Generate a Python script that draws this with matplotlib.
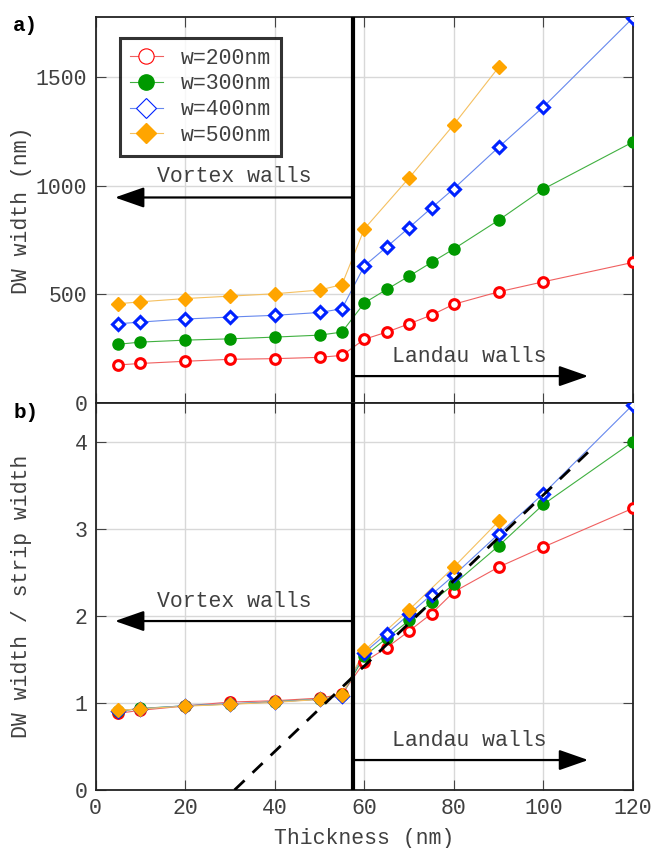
import matplotlib
matplotlib.use('Agg')
import matplotlib.pyplot as plt
from matplotlib.lines import Line2D

plt.rcParams['font.family'] = ['Liberation Mono', 'DejaVu Sans Mono']
plt.rcParams['font.size'] = 15.5

# thickness (nm)
t_full = [5, 10, 20, 30, 40, 50, 55, 60, 65, 70, 75, 80, 90, 100, 120]
t_500 = [5, 10, 20, 30, 40, 50, 55, 60, 70, 80, 90]

# DW width (nm), read off panel a)
dw_200 = [176, 183, 193, 202, 205, 211, 220, 294, 327, 365, 405, 455, 512, 558, 647]
dw_300 = [271, 281, 290, 296, 304, 313, 327, 461, 523, 584, 647, 709, 841, 984, 1200]
dw_400 = [365, 373, 387, 396, 404, 417, 434, 631, 718, 807, 897, 986, 1176, 1361, 1770]
dw_500 = [457, 466, 481, 492, 503, 520, 545, 801, 1035, 1280, 1543]

strip_widths = [200, 300, 400, 500]
labels = ['w=200nm', 'w=300nm', 'w=400nm', 'w=500nm']

# linear guide in panel b)
fit_x = [31, 110]
fit_y = [0, 3.88]

transition = 57.5

series = [(t_full, dw_200), (t_full, dw_300), (t_full, dw_400), (t_500, dw_500)]
styles = [
    dict(marker='o', mfc='white', mec='#ff0000', line='#f06060'),
    dict(marker='o', mfc='#009900', mec='#009900', line='#40b040'),
    dict(marker='D', mfc='white', mec='#0022ff', line='#6688ee'),
    dict(marker='D', mfc='#ffa500', mec='#ffa500', line='#f5c060'),
]
msizes = [7, 8, 7, 8.5]
txtc = '#404040'

fig = plt.figure(figsize=(6.54, 8.48), dpi=100)
ax1 = fig.add_axes([0.1463, 0.5244, 0.8216, 0.4559])
ax2 = fig.add_axes([0.1463, 0.0684, 0.8216, 0.4560])

def draw(ax, ratio):
    for (x, y), w, st, ms in zip(series, strip_widths, styles, msizes):
        yy = [v / w for v in y] if ratio else y
        ax.plot(x, yy, color=st['line'], lw=0.8, zorder=2)
        ax.plot(x, yy, ls='none', marker=st['marker'], ms=ms if st['marker'] == 'o' else ms * 0.85,
                mfc=st['mfc'], mec=st['mec'], mew=2.2 if st['mfc'] == 'white' else 1, zorder=3)

def style(ax):
    ax.set_xlim(0, 120)
    ax.set_xticks(range(0, 121, 20))
    ax.grid(True, color='#d8d8d8', lw=1)
    ax.set_axisbelow(True)
    ax.tick_params(direction='in', length=7, top=True, right=True, colors='#444444',
                   labelcolor=txtc, pad=6)
    for s in ax.spines.values():
        s.set_linewidth(1.3)
        s.set_color('#222222')
    ax.axvline(transition, color='black', lw=3, zorder=4)
    ax.yaxis.set_label_coords(-0.119, 0.5)

arrow = dict(arrowstyle='-|>,head_length=1.0,head_width=0.35', color='black', lw=1.6,
             shrinkA=0, shrinkB=0, mutation_scale=18)

# panel a)
draw(ax1, False)
style(ax1)
ax1.set_ylim(0, 1775)
ax1.set_yticks([0, 500, 1000, 1500])
ax1.tick_params(labelbottom=False)
ax1.set_ylabel('DW width (nm)', color=txtc)
ax1.annotate('', xy=(4.3, 945), xytext=(transition, 945), arrowprops=arrow, zorder=5)
ax1.text(31, 1043, 'Vortex walls', ha='center', va='center', color=txtc)
ax1.annotate('', xy=(110, 125), xytext=(transition, 125), arrowprops=arrow, zorder=5)
ax1.text(83.5, 214, 'Landau walls', ha='center', va='center', color=txtc)

handles = [Line2D([], [], color=st['line'], lw=0.8, marker=st['marker'],
                  ms=11 if st['marker'] == 'o' else 10, mfc=st['mfc'], mec=st['mec'],
                  mew=0.8 if st['mfc'] == 'white' else 1) for st in styles]
leg = ax1.legend(handles, labels, loc='upper left', bbox_to_anchor=(0.045, 0.945),
                 frameon=True, fancybox=False, edgecolor='black', handlelength=1.55,
                 labelspacing=0.22, borderpad=0.45, handletextpad=0.85, borderaxespad=0)
leg.get_frame().set_linewidth(2.2)
for txt in leg.get_texts():
    txt.set_color(txtc)

# panel b)
draw(ax2, True)
style(ax2)
ax2.plot(fit_x, fit_y, color='black', lw=2, ls=(0, (5, 4)), zorder=3)
ax2.set_ylim(0, 4.44)
ax2.set_yticks([0, 1, 2, 3, 4])
ax2.set_xlabel('Thickness (nm)', color=txtc, labelpad=6)
ax2.set_ylabel('DW width / strip width', color=txtc)
ax2.annotate('', xy=(4.3, 1.94), xytext=(transition, 1.94), arrowprops=arrow, zorder=5)
ax2.text(31, 2.17, 'Vortex walls', ha='center', va='center', color=txtc)
ax2.annotate('', xy=(110, 0.344), xytext=(transition, 0.344), arrowprops=arrow, zorder=5)
ax2.text(83.5, 0.566, 'Landau walls', ha='center', va='center', color=txtc)

fig.text(0.02, 0.9705, 'a)', fontweight='bold', fontsize=15, va='center')
fig.text(0.02, 0.514, 'b)', fontweight='bold', fontsize=15, va='center')

fig.savefig('out.png', dpi=100)
